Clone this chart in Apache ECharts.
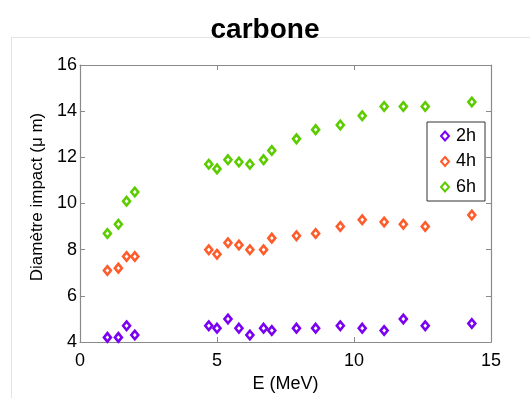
<!DOCTYPE html>
<html>
<head>
<meta charset="utf-8">
<script src="https://cdn.jsdelivr.net/npm/echarts@6/dist/echarts.min.js"></script>
<style>html,body{margin:0;padding:0;background:#fff;}#c{width:530px;height:398px;}</style>
</head>
<body>
<div id="c"></div>
<script>
var energies = [1.0, 1.4, 1.7, 2.0, 4.7, 5.0, 5.4, 5.8, 6.2, 6.7, 7.0, 7.9, 8.6, 9.5, 10.3, 11.1, 11.8, 12.6, 14.3];
var d2h = [4.2, 4.2, 4.7, 4.3, 4.7, 4.6, 5.0, 4.6, 4.3, 4.6, 4.5, 4.6, 4.6, 4.7, 4.6, 4.5, 5.0, 4.7, 4.8];
var d4h = [7.1, 7.2, 7.7, 7.7, 8.0, 7.8, 8.3, 8.2, 8.0, 8.0, 8.5, 8.6, 8.7, 9.0, 9.3, 9.2, 9.1, 9.0, 9.5];
var d6h = [8.7, 9.1, 10.1, 10.5, 11.7, 11.5, 11.9, 11.8, 11.7, 11.9, 12.3, 12.8, 13.2, 13.4, 13.8, 14.2, 14.2, 14.2, 14.4];
var seriesNames = ['2h', '4h', '6h'];
var seriesColors = ['#7a00f2', '#ff5c2b', '#5ccc00'];
var xTicks = [0, 5, 10, 15];
var yTicks = [4, 6, 8, 10, 12, 14, 16];

function pairs(ys) { return energies.map(function (x, i) { return [x, ys[i]]; }); }
var allData = [d2h, d4h, d6h];
var axisCol = '#8a8a8a';
var font = 'Liberation Sans, Arial, sans-serif';

var chart = echarts.init(document.getElementById('c'));
var series = seriesNames.map(function (n, i) {
  return {
    name: n, type: 'scatter', data: pairs(allData[i]),
    symbol: 'diamond', symbolSize: [7, 8.5],
    itemStyle: { color: '#ffffff', borderColor: seriesColors[i], borderWidth: 2.6, opacity: 1 },
    xAxisIndex: 0, yAxisIndex: 0
  };
});
chart.setOption({
  animation: false,
  backgroundColor: '#ffffff',
  title: { text: 'carbone', left: 'center', top: 11, textStyle: { fontFamily: font, fontWeight: 'bold', fontSize: 28, color: '#000' } },
  graphic: [
    { type: 'line', shape: { x1: 11, y1: 37.5, x2: 530, y2: 37.5 }, style: { stroke: '#e4e4e4', lineWidth: 1 }, silent: true },
    { type: 'line', shape: { x1: 11.5, y1: 37, x2: 11.5, y2: 398 }, style: { stroke: '#e4e4e4', lineWidth: 1 }, silent: true }
  ],
  grid: { left: 80, right: 39, top: 65, bottom: 44 },
  legend: {
    orient: 'vertical', left: 427, top: 122, data: seriesNames,
    itemWidth: 8, itemHeight: 9, itemGap: 5.5,
    padding: [4, 9, 4, 13],
    borderColor: '#333', borderWidth: 1,
    textStyle: { fontFamily: font, fontSize: 18, color: '#000', lineHeight: 20, padding: [0, 0, 0, 2] }
  },
  xAxis: [
    { type: 'value', min: 0, max: 15, interval: 5, position: 'bottom',
      name: 'E (MeV)', nameLocation: 'middle', nameGap: 33,
      nameTextStyle: { fontFamily: font, fontSize: 18, color: '#000' },
      axisLine: { onZero: false, lineStyle: { color: axisCol, width: 1.2 } },
      axisTick: { inside: true, length: 5, lineStyle: { color: axisCol } },
      axisLabel: { fontFamily: font, fontSize: 18, color: '#000', margin: 10, formatter: function (v) { return xTicks.indexOf(v) >= 0 ? String(v) : ''; } },
      splitLine: { show: false } },
    { type: 'value', min: 0, max: 15, interval: 5, position: 'top',
      axisLine: { onZero: false, lineStyle: { color: axisCol, width: 1.2 } },
      axisTick: { inside: true, length: 5, lineStyle: { color: axisCol } },
      axisLabel: { show: false }, splitLine: { show: false } }
  ],
  yAxis: [
    { type: 'value', min: 4, max: 16, interval: 2, position: 'left',
      name: 'Diamètre impact (μ m)', nameLocation: 'middle', nameGap: 29,
      nameTextStyle: { fontFamily: font, fontSize: 17, color: '#000', padding: [0, 0, 0, 13] },
      axisLine: { onZero: false, lineStyle: { color: axisCol, width: 1.2 } },
      axisTick: { inside: true, length: 5, lineStyle: { color: axisCol } },
      axisLabel: { fontFamily: font, fontSize: 18, color: '#000', margin: 3, formatter: function (v) { return yTicks.indexOf(v) >= 0 ? String(v) : ''; } },
      splitLine: { show: false } },
    { type: 'value', min: 4, max: 16, interval: 2, position: 'right',
      axisLine: { onZero: false, lineStyle: { color: axisCol, width: 1.2 } },
      axisTick: { inside: true, length: 5, lineStyle: { color: axisCol } },
      axisLabel: { show: false }, splitLine: { show: false } }
  ],
  series: series
});
</script>
</body>
</html>
